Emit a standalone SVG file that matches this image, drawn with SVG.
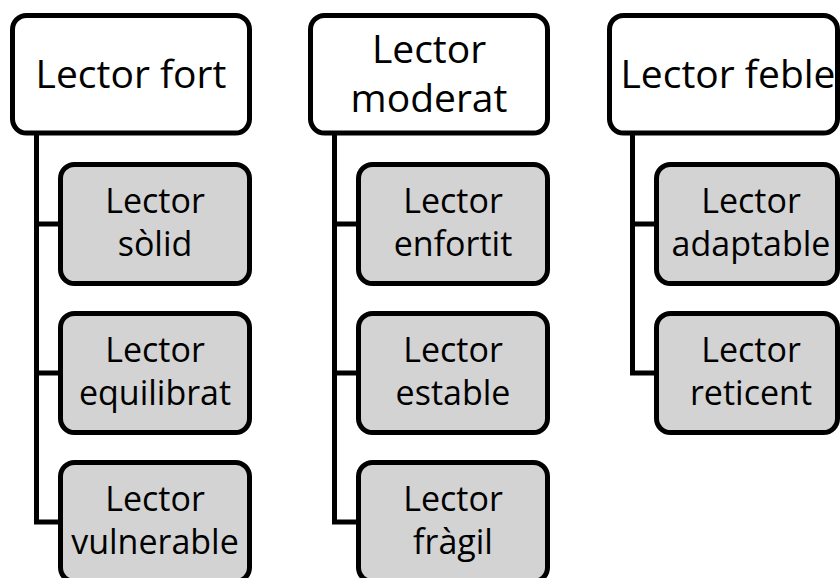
<svg xmlns="http://www.w3.org/2000/svg" width="840" height="578" viewBox="0 0 840 578">
<style>
.top{fill:#ffffff;stroke:#000;stroke-width:5}
.child{fill:#d3d3d3;stroke:#000;stroke-width:5}
.conn{fill:none;stroke:#000;stroke-width:5;stroke-linejoin:miter}
text{font-family:"Open Sans","Noto Sans","Liberation Sans",sans-serif;fill:#000;text-anchor:middle}
.t1{font-size:39px}
.t2{font-size:34px}
</style>
<rect width="840" height="578" fill="#ffffff"/>
<g id="connectors">
<path class="conn" d="M36.5,133 V522 H60.5 M36.5,224 H60.5 M36.5,373 H60.5"/>
<path class="conn" d="M334.5,133 V522 H358.5 M334.5,224 H358.5 M334.5,373 H358.5"/>
<path class="conn" d="M632.5,133 V373 H656.5 M632.5,224 H656.5"/>
</g>
<g id="lector-fort">
<rect class="top" x="12.5" y="15.5" width="237" height="117.5" rx="14"/>
<text class="t1" x="131" y="88">Lector fort</text>
</g>
<g id="lector-solid">
<rect class="child" x="60.5" y="164.5" width="189" height="119" rx="14"/>
<text class="t2" x="155" y="213">Lector</text>
<text class="t2" x="155" y="256">sòlid</text>
</g>
<g id="lector-equilibrat">
<rect class="child" x="60.5" y="313.5" width="189" height="119" rx="14"/>
<text class="t2" x="155" y="362">Lector</text>
<text class="t2" x="155" y="405">equilibrat</text>
</g>
<g id="lector-vulnerable">
<rect class="child" x="60.5" y="462.5" width="189" height="119" rx="14"/>
<text class="t2" x="155" y="511">Lector</text>
<text class="t2" x="155" y="554">vulnerable</text>
</g>
<g id="lector-moderat">
<rect class="top" x="310.5" y="15.5" width="237" height="117.5" rx="14"/>
<text class="t1" x="429" y="63">Lector</text>
<text class="t1" x="429" y="112">moderat</text>
</g>
<g id="lector-enfortit">
<rect class="child" x="358.5" y="164.5" width="189" height="119" rx="14"/>
<text class="t2" x="453" y="213">Lector</text>
<text class="t2" x="453" y="256">enfortit</text>
</g>
<g id="lector-estable">
<rect class="child" x="358.5" y="313.5" width="189" height="119" rx="14"/>
<text class="t2" x="453" y="362">Lector</text>
<text class="t2" x="453" y="405">estable</text>
</g>
<g id="lector-fragil">
<rect class="child" x="358.5" y="462.5" width="189" height="119" rx="14"/>
<text class="t2" x="453" y="511">Lector</text>
<text class="t2" x="453" y="554">fràgil</text>
</g>
<g id="lector-feble">
<rect class="top" x="609.5" y="15.5" width="228" height="117.5" rx="14"/>
<text class="t1" x="728" y="88">Lector feble</text>
</g>
<g id="lector-adaptable">
<rect class="child" x="656.5" y="164.5" width="181" height="119" rx="14"/>
<text class="t2" x="751" y="213">Lector</text>
<text class="t2" x="751" y="256">adaptable</text>
</g>
<g id="lector-reticent">
<rect class="child" x="656.5" y="313.5" width="181" height="119" rx="14"/>
<text class="t2" x="751" y="362">Lector</text>
<text class="t2" x="751" y="405">reticent</text>
</g>
</svg>
